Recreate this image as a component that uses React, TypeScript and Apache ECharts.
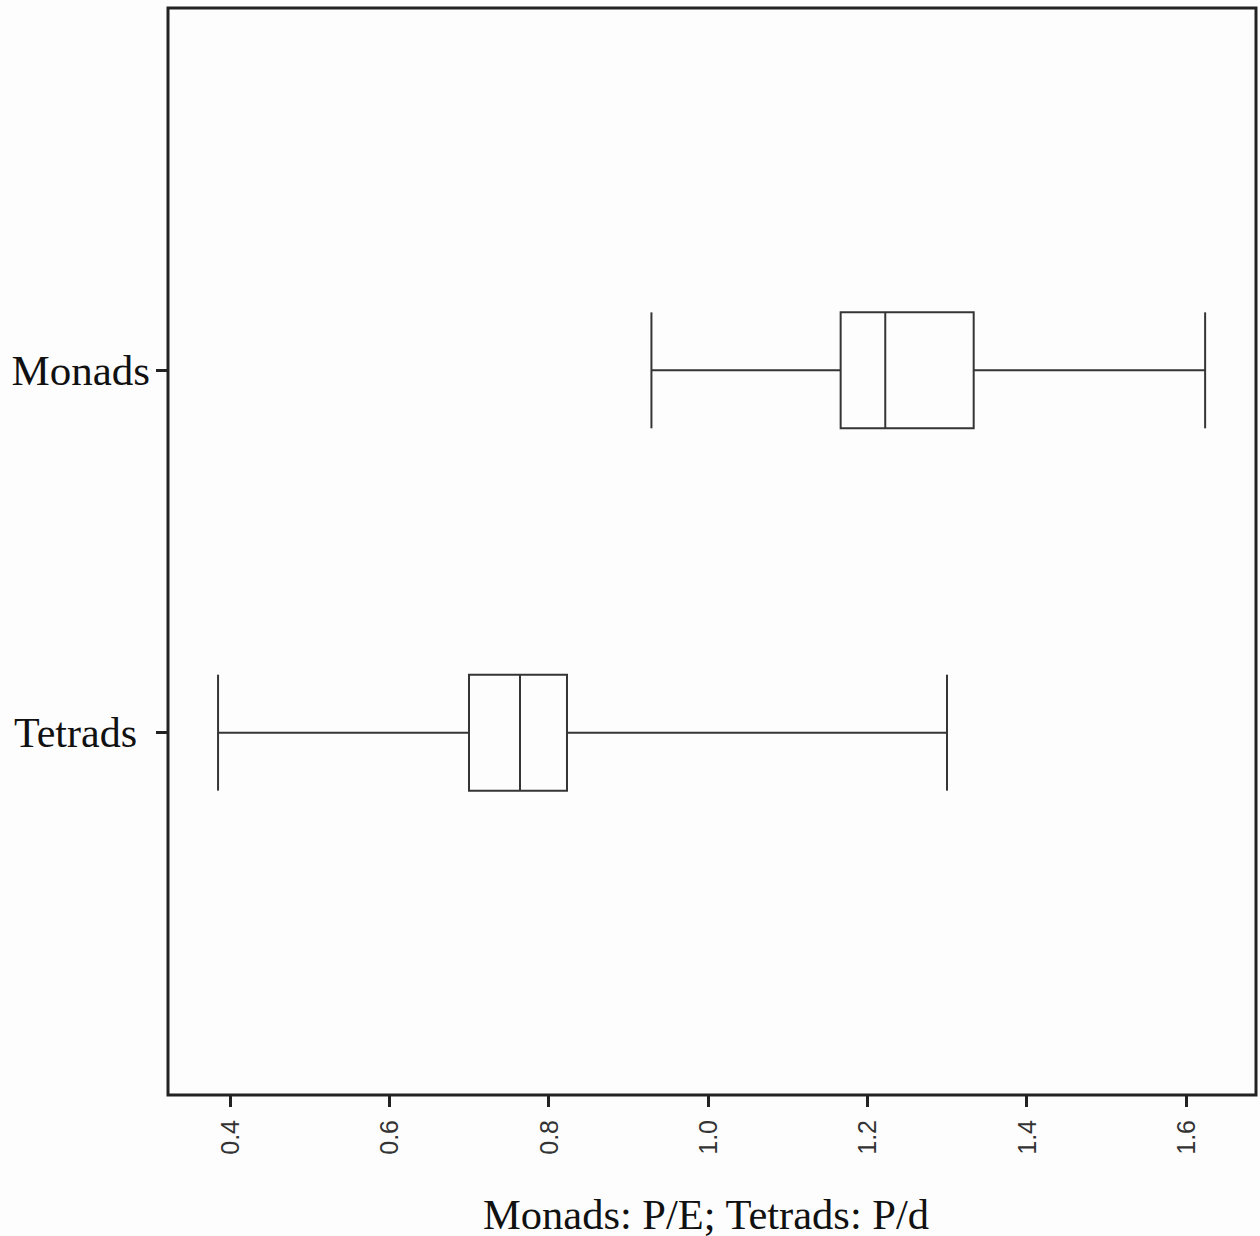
import React, { useEffect, useRef } from "react";
import * as echarts from "echarts";

const categories = ["Tetrads", "Monads"];
const categoryPositions = [1, 2];
// [lower whisker, Q1, median, Q3, upper whisker]
const tetradsStats = [0.385, 0.7, 0.764, 0.823, 1.3];
const monadsStats = [0.929, 1.1665, 1.2225, 1.3335, 1.624];
const xTickValues = [0.4, 0.6, 0.8, 1.0, 1.2, 1.4, 1.6];
const xAxisTitle = "Monads: P/E; Tetrads: P/d";

const BOX_HALF = 0.16;
const LINE_COLOR = "#353535";

export default function App() {
  const ref = useRef<HTMLDivElement>(null);

  useEffect(() => {
    if (!ref.current) return;
    const chart = echarts.init(ref.current, undefined, { renderer: "svg" });
    const statsList = [tetradsStats, monadsStats];
    const data = categoryPositions.map((p, i) => [p, ...statsList[i]]);

    const option: any = {
      animation: false,
      backgroundColor: "#fdfdfd",
      grid: {
        left: 168,
        right: 4,
        top: 8,
        bottom: 141,
        show: true,
        borderColor: "#222",
        borderWidth: 3,
        backgroundColor: "transparent",
      },
      xAxis: {
        type: "value",
        min: 0.32218,
        max: 1.68786,
        axisLine: { show: false },
        splitLine: { show: false },
        axisTick: {
          show: true,
          customValues: xTickValues,
          length: 12,
          lineStyle: { color: "#222", width: 3 },
        },
        axisLabel: {
          customValues: xTickValues,
          rotate: 90,
          margin: 25,
          fontFamily: "'Liberation Sans', Arial, sans-serif",
          fontSize: 25,
          color: "#333",
          formatter: (v: number) => v.toFixed(1),
        },
      },
      yAxis: {
        type: "value",
        min: 0,
        max: 3,
        axisLine: { show: false },
        splitLine: { show: false },
        axisTick: {
          show: true,
          customValues: categoryPositions,
          length: 12,
          lineStyle: { color: "#222", width: 3 },
        },
        axisLabel: {
          customValues: categoryPositions,
          margin: 18,
          formatter: (v: number) => {
            const idx = categoryPositions.indexOf(v);
            const name = idx >= 0 ? categories[idx] : "";
            return name === "Tetrads" ? `{t|${name}}` : `{m|${name}}`;
          },
          rich: {
            m: {
              fontFamily: "'Liberation Serif', 'Times New Roman', serif",
              fontSize: 43,
              color: "#111",
            },
            t: {
              fontFamily: "'Liberation Serif', 'Times New Roman', serif",
              fontSize: 42,
              color: "#111",
              padding: [0, 13, 0, 0],
            },
          },
        },
      },
      graphic: [
        {
          type: "text",
          x: 706,
          y: 1214,
          style: {
            text: xAxisTitle,
            fontFamily: "'Liberation Serif', 'Times New Roman', serif",
            fontSize: 42.5,
            fill: "#111",
            textAlign: "center",
            textVerticalAlign: "middle",
          },
        },
      ],
      series: [
        {
          type: "custom",
          data,
          encode: { x: [1, 2, 3, 4, 5], y: 0 },
          renderItem: (params: any, api: any) => {
            const pos = api.value(0);
            const low = api.value(1);
            const q1 = api.value(2);
            const med = api.value(3);
            const q3 = api.value(4);
            const high = api.value(5);
            const top = api.coord([low, pos + BOX_HALF])[1];
            const bot = api.coord([low, pos - BOX_HALF])[1];
            const cy = api.coord([low, pos])[1];
            const xLow = api.coord([low, pos])[0];
            const xQ1 = api.coord([q1, pos])[0];
            const xMed = api.coord([med, pos])[0];
            const xQ3 = api.coord([q3, pos])[0];
            const xHigh = api.coord([high, pos])[0];
            const style = { stroke: LINE_COLOR, lineWidth: 2, fill: "none" };
            const line = (x1: number, y1: number, x2: number, y2: number) => ({
              type: "line",
              shape: { x1, y1, x2, y2 },
              style,
            });
            return {
              type: "group",
              children: [
                line(xLow, cy, xQ1, cy),
                line(xQ3, cy, xHigh, cy),
                line(xLow, top, xLow, bot),
                line(xHigh, top, xHigh, bot),
                {
                  type: "rect",
                  shape: { x: xQ1, y: top, width: xQ3 - xQ1, height: bot - top },
                  style: { stroke: LINE_COLOR, lineWidth: 2, fill: "#fdfdfd" },
                },
                line(xMed, top, xMed, bot),
              ],
            };
          },
        },
      ],
    };

    chart.setOption(option);
    return () => chart.dispose();
  }, []);

  return (
    <div
      ref={ref}
      style={{ position: "absolute", left: 0, top: 0, width: 1260, height: 1236 }}
    />
  );
}
